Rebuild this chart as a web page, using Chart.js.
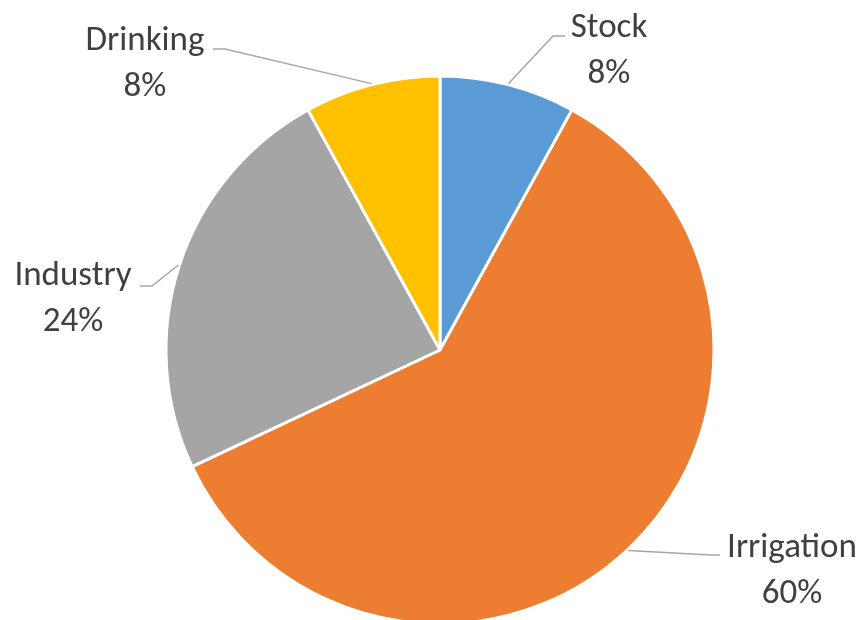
<!DOCTYPE html>
<html>
<head>
<meta charset="utf-8">
<script src="https://cdn.jsdelivr.net/npm/chart.js@4"></script>
<style>
  html, body { margin: 0; padding: 0; background: #ffffff; }
  #wrap { width: 865px; height: 620px; position: relative; }
</style>
</head>
<body>
<div id="wrap"><canvas id="c" width="865" height="620"></canvas></div>
<script>
// ---- Data ----
const categories = ['Stock', 'Irrigation', 'Industry', 'Drinking'];
const shares = [8, 60, 24, 8];
const percentLabels = ['8%', '60%', '24%', '8%'];
const sliceColors = ['#5B9BD5', '#ED7D31', '#A5A5A5', '#FFC000'];

// ---- Label layout (text centre x, first-line baseline y, elbow point) ----
const labelLayout = [
  { tx: 609, ty: 37, ex: 553, ey: 36, hx: 565 },
  { tx: 792, ty: 557, ex: 710, ey: 555, hx: 720 },
  { tx: 73, ty: 285, ex: 152, ey: 286, hx: 140 },
  { tx: 145, ty: 50, ex: 225, ey: 49, hx: 213 }
];

const FONT = '35px Carlito, Lato, "Open Sans", sans-serif';

const labelPlugin = {
  id: 'leaderLabels',
  afterDatasetsDraw(chart) {
    const ctx = chart.ctx;
    const meta = chart.getDatasetMeta(0);
    ctx.save();
    meta.data.forEach((arc, i) => {
      const p = arc.getProps(['x', 'y', 'startAngle', 'endAngle', 'outerRadius'], true);
      const mid = (p.startAngle + p.endAngle) / 2;
      const sx = p.x + Math.cos(mid) * (p.outerRadius + 1);
      const sy = p.y + Math.sin(mid) * (p.outerRadius + 1);
      const L = labelLayout[i];
      ctx.strokeStyle = '#A6A6A6';
      ctx.lineWidth = 1.5;
      ctx.beginPath();
      ctx.moveTo(sx, sy);
      ctx.lineTo(L.ex, L.ey);
      ctx.lineTo(L.hx, L.ey);
      ctx.stroke();
      ctx.fillStyle = '#404040';
      ctx.font = FONT;
      ctx.textAlign = 'center';
      ctx.textBaseline = 'alphabetic';
      ctx.fillText(categories[i], L.tx, L.ty);
      ctx.fillText(percentLabels[i], L.tx, L.ty + 46);
    });
    ctx.restore();
  }
};

new Chart(document.getElementById('c'), {
  type: 'pie',
  data: {
    labels: categories,
    datasets: [{
      data: shares,
      backgroundColor: sliceColors,
      borderColor: '#ffffff',
      borderWidth: 3,
      hoverOffset: 0
    }]
  },
  options: {
    responsive: false,
    animation: false,
    radius: 274,
    layout: { padding: { left: 15, right: 0, top: 80, bottom: 0 } },
    plugins: {
      legend: { display: false },
      tooltip: { enabled: false }
    }
  },
  plugins: [labelPlugin]
});
</script>
</body>
</html>
